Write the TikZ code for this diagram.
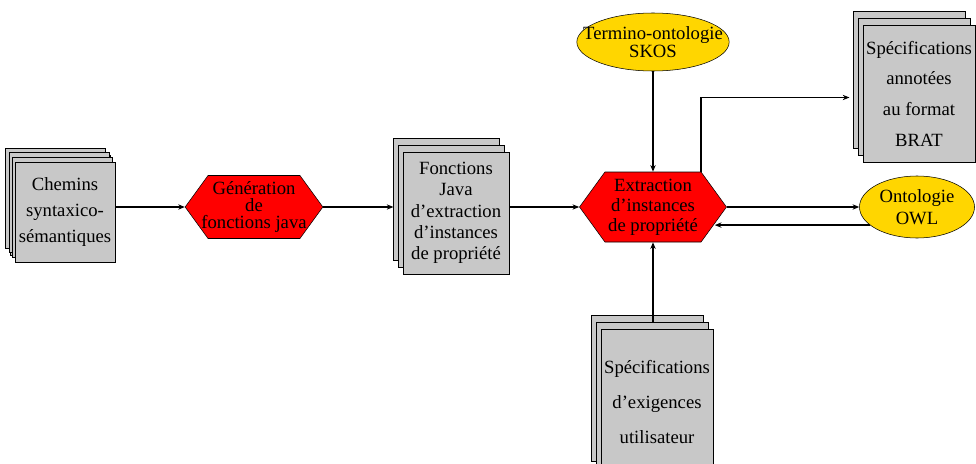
\documentclass[tikz,border=0pt]{standalone}
\usepackage{fontspec}
\setmainfont{LiberationSerif}[Extension=.ttf,UprightFont=*-Regular,Ligatures=TeX]
\usetikzlibrary{shapes.geometric,shapes.symbols,shadows,arrows.meta}

\definecolor{docgray}{RGB}{200,200,200}
\definecolor{ontoyellow}{RGB}{255,214,0}

\tikzset{
  doc/.style={draw,fill=docgray,align=center,inner sep=1pt,
    double copy shadow={shadow xshift=-3.75pt,shadow yshift=5pt}},
  proc/.style={draw,fill=red,signal,signal to=east and west,signal pointer angle=108,
    align=center,inner sep=1pt},
  onto/.style={draw,fill=ontoyellow,ellipse,align=center,inner sep=0pt},
  flow/.style={->,>={Stealth[length=5pt,width=4pt]},line width=1.1pt},
}

\begin{document}
\begin{tikzpicture}[x=0.75pt,y=-0.75pt,font=\fontsize{14}{16}\selectfont]
  \useasboundingbox (0,0) rectangle (976,464);

  \node[doc,minimum width=75pt,minimum height=75pt,
    double copy shadow={shadow xshift=-2.25pt,shadow yshift=3.75pt}] (chemins) at (65,212)
    {Chemins\\[3.5pt]syntaxico-\\[3.5pt]sémantiques};
  \node[proc,minimum width=91.5pt,minimum height=47.25pt,inner xsep=-5pt] (gen) at (254,207)
    {Génération\\[-3.5pt]de\\[-3.5pt]fonctions java};
  \node[doc,minimum width=79.5pt,minimum height=91.5pt] (fonctions) at (456,213)
    {Fonctions\\Java\\d’extraction\\d’instances\\de propriété};
  \node[proc,minimum width=110.25pt,minimum height=52.5pt] (extraction) at (653,207)
    {Extraction\\[-1pt]d’instances\\[-1pt]de propriété};
  \node[onto,minimum width=112.5pt,minimum height=43.5pt,inner xsep=-12pt] (skos) at (653,42)
    {Termino-ontologie\\[-3pt]SKOS};
  \node[onto,minimum width=86.25pt,minimum height=46.5pt] (owl) at (917,207)
    {Ontologie\\OWL};
  \node[doc,minimum width=84pt,minimum height=102.75pt] (brat) at (919,93.5)
    {Spécifications\\[7pt]annotées\\[7pt]au format\\[7pt]BRAT};
  \node[doc,minimum width=84pt,minimum height=109.5pt] (exig) at (657,402)
    {Spécifications\\[10pt]d’exigences\\[10pt]utilisateur};

  \draw[flow] (gen.west -| chemins.east) -- (gen.west);
  \draw[flow,shorten >=7pt] (gen.east) -- (gen.east -| fonctions.west);
  \draw[flow] (extraction.west -| fonctions.east) -- (extraction.west);
  \draw[flow] (skos.south) -- (extraction.north);
  \draw[flow] (extraction.north east) |- ([xshift=-10pt,yshift=-3pt]brat.west);
  \draw[flow] (extraction.east) -- (extraction.east -| owl.west);
  \draw[flow] (owl.201) -- (extraction.-15 |- owl.201);
  \draw[flow] ([xshift=-3pt,yshift=5pt]exig.north) -- (extraction.south);
\end{tikzpicture}
\end{document}
